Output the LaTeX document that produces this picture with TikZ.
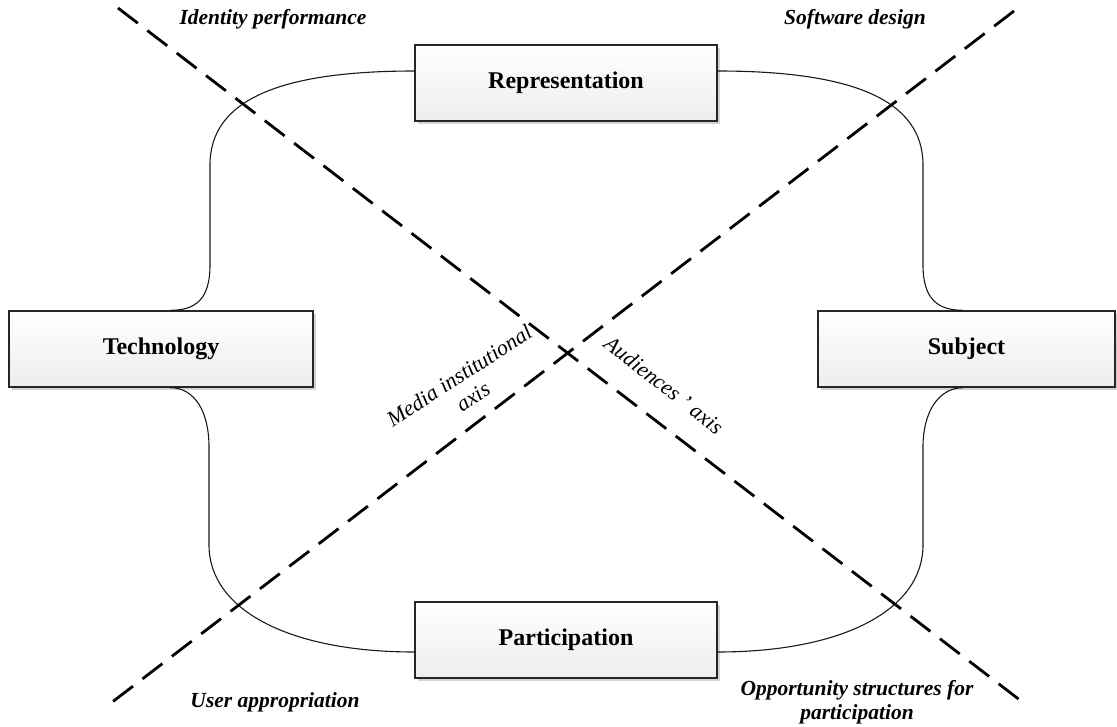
\documentclass[tikz,border=0pt]{standalone}
\usepackage{fontspec}
\setmainfont{Liberation Serif}
\usetikzlibrary{shadows,calc}
\begin{document}
\begin{tikzpicture}[x=1pt,y=-1pt,
  box/.style={draw=black!85, line width=1.3pt, top color=white, bottom color=gray!14,
    minimum height=76pt, inner sep=0pt,
    drop shadow={shadow xshift=2.5pt, shadow yshift=-2.5pt, opacity=0.35, fill=gray},
    font=\fontsize{24}{28}\selectfont\bfseries},
  conn/.style={line width=1.1pt, black!90},
  axisline/.style={line width=2.8pt, dash pattern=on 25pt off 12pt, black},
  corner/.style={font=\fontsize{21.5}{24}\selectfont\bfseries\itshape, align=center},
  axislabel/.style={font=\fontsize{22}{25}\selectfont\itshape, align=center, inner sep=1pt}]
\useasboundingbox (0,0) rectangle (1117,726);
% boxes
\node[box, minimum width=302pt] (rep) at (566,83) {Representation};
\node[box, minimum width=302pt] (part) at (566,640) {Participation};
\node[box, minimum width=304pt] (tech) at (161,349) {Technology};
\node[box, minimum width=297pt] (subj) at (966.5,349) {Subject};
% knee coordinates
\coordinate (tl1) at (210,165);
\coordinate (tl2) at (210,265);
\coordinate (bl1) at (209,447);
\coordinate (bl2) at (209,545);
\coordinate (tr1) at (923,165);
\coordinate (tr2) at (923,265);
\coordinate (br1) at (923,447);
\coordinate (br2) at (923,545);
% curly connectors
\draw[conn] ([yshift=12pt]rep.west) .. controls +(-135,0) and +(0,-65) .. (tl1)
  -- (tl2) .. controls +(0,35) and +(25,0) .. ([xshift=9pt]tech.north);
\draw[conn] ([xshift=9pt]tech.south) .. controls +(25,0) and +(0,-35) .. (bl1)
  -- (bl2) .. controls +(0,65) and +(-125,0) .. ([yshift=-12pt]part.west);
\draw[conn] ([yshift=12pt]rep.east) .. controls +(135,0) and +(0,-65) .. (tr1)
  -- (tr2) .. controls +(0,35) and +(-25,0) .. ([xshift=-3pt]subj.north);
\draw[conn] ([xshift=-3pt]subj.south) .. controls +(-25,0) and +(0,-35) .. (br1)
  -- (br2) .. controls +(0,65) and +(125,0) .. ([yshift=-12pt]part.east);
% dashed axes
\coordinate (a1) at (118,8);
\coordinate (a2) at (1025,704);
\coordinate (b1) at (1014,11);
\coordinate (b2) at (111,703);
\draw[axisline] (a1) -- (a2);
\draw[axisline] (b1) -- (b2);
% corner labels
\node[corner] (idp) at (273,19) {Identity performance};
\node[corner] (swd) at (855,19) {Software design};
\node[corner] (usa) at (275,702) {User appropriation};
\node[corner] (ops) at (857,702) {Opportunity structures for\\participation};
% axis labels
\node[axislabel, rotate=33] (mia) at (466,386) {Media institutional\\axis};
\node[axislabel, rotate=-38] (aud) at (664,385) {Audiences ' axis};
\end{tikzpicture}
\end{document}
